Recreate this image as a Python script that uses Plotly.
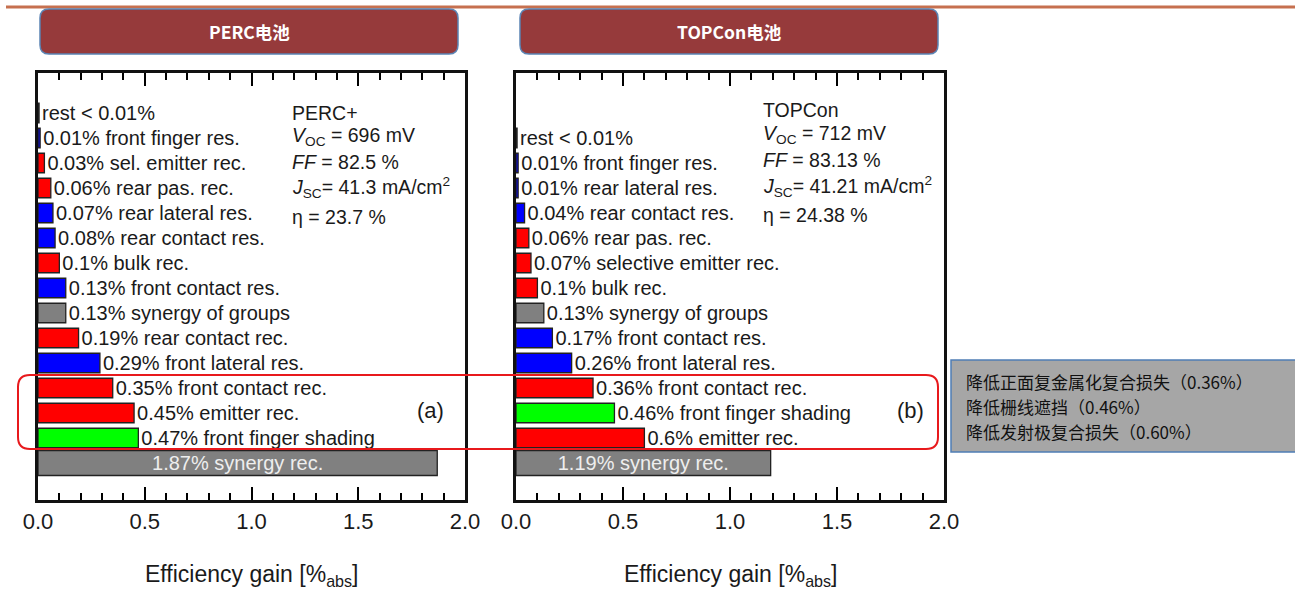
import plotly.graph_objects as go

W, H = 1295, 589

# ---------------- data (top-to-bottom order as drawn) ----------------
perc_labels = ["rest < 0.01%", "0.01% front finger res.", "0.03% sel. emitter rec.",
               "0.06% rear pas. rec.", "0.07% rear lateral res.", "0.08% rear contact res.",
               "0.1% bulk rec.", "0.13% front contact res.", "0.13% synergy of groups",
               "0.19% rear contact rec.", "0.29% front lateral res.", "0.35% front contact rec.",
               "0.45% emitter rec.", "0.47% front finger shading", "1.87% synergy rec."]
perc_values = [0.005, 0.01, 0.03, 0.06, 0.07, 0.08, 0.10, 0.13, 0.13, 0.19, 0.29, 0.35,
               0.45, 0.47, 1.87]
perc_groups = ["rest", "res", "rec", "rec", "res", "res", "rec", "res", "syn", "rec",
               "res", "rec", "rec", "shade", "syn"]

topcon_labels = ["rest < 0.01%", "0.01% front finger res.", "0.01% rear lateral res.",
                 "0.04% rear contact res.", "0.06% rear pas. rec.", "0.07% selective emitter rec.",
                 "0.1% bulk rec.", "0.13% synergy of groups", "0.17% front contact res.",
                 "0.26% front lateral res.", "0.36% front contact rec.", "0.46% front finger shading",
                 "0.6% emitter rec.", "1.19% synergy rec."]
topcon_values = [0.005, 0.01, 0.01, 0.04, 0.06, 0.07, 0.10, 0.13, 0.17, 0.26, 0.36, 0.46,
                 0.60, 1.19]
topcon_groups = ["rest", "res", "res", "res", "rec", "rec", "rec", "syn", "res", "res",
                 "rec", "shade", "rec", "syn"]

x_title = "Efficiency gain [%<sub>abs</sub>]"
panel_titles = ["PERC电池", "TOPCon电池"]
perc_params = ["PERC+", "<i>V</i><sub>OC</sub> = 696 mV", "<i>FF</i> = 82.5 %",
               "<i>J</i><sub>SC</sub>= 41.3 mA/cm<sup>2</sup>", "η = 23.7 %"]
topcon_params = ["TOPCon", "<i>V</i><sub>OC</sub> = 712 mV", "<i>FF</i> = 83.13 %",
                 "<i>J</i><sub>SC</sub>= 41.21 mA/cm<sup>2</sup>", "η = 24.38 %"]
note_lines = ["降低正面复金属化复合损失（0.36%）", "降低栅线遮挡（0.46%）", "降低发射极复合损失（0.60%）"]

# ---------------- styles ----------------
group_colors = {"rest": "#111111", "res": "#0000FF", "rec": "#FF0000",
                "syn": "#808080", "shade": "#00FF00"}
FONT = "Liberation Sans, Arial, sans-serif"
CJK = "Noto Sans CJK SC, sans-serif"
CLEAR = "rgba(0,0,0,0)"


def px(x):
    return x / W


def py(y):
    return 1 - y / H


def make_bar(labels, values, groups, xa, ya):
    n = len(values)
    ypos = list(range(n - 1, -1, -1))
    colors = [group_colors[g] for g in groups]
    widths = [1.0 if i == n - 1 else 0.78 for i in range(n)]
    tpos = ["inside" if i == n - 1 else "outside" for i in range(n)]
    return go.Bar(
        x=values, y=ypos, orientation="h", text=labels, textposition=tpos,
        insidetextanchor="middle", constraintext="none",
        width=widths,
        marker=dict(color=colors, line=dict(color="#222222", width=1.3)),
        outsidetextfont=dict(family=FONT, size=20, color="#1a1a1a"),
        insidetextfont=dict(family=FONT, size=20, color="#EEEEEE"),
        xaxis=xa, yaxis=ya, hoverinfo="skip", showlegend=False,
    )


fig = go.Figure()
fig.add_trace(make_bar(perc_labels, perc_values, perc_groups, "x", "y"))
fig.add_trace(make_bar(topcon_labels, topcon_values, topcon_groups, "x2", "y2"))

ydom = [py(500), py(73)]
yr = [-1.48, 15.6]


def xaxis_cfg(dom, anchor):
    return dict(domain=dom, anchor=anchor, range=[0, 2], tickmode="linear", tick0=0,
                dtick=0.5, tickformat=".1f",
                ticks="inside", ticklen=13, tickwidth=2, tickcolor="#000000",
                showline=True, linewidth=2.5, linecolor="#111111", mirror="allticks",
                gridcolor=CLEAR, zerolinecolor=CLEAR,
                tickfont=dict(family=FONT, size=22, color="#1a1a1a"),
                minor=dict(dtick=0.1, ticklen=7, tickwidth=2, ticks="inside",
                           tickcolor="#000000"))


def yaxis_cfg(anchor):
    return dict(domain=ydom, anchor=anchor, range=yr, showticklabels=False,
                showline=True, mirror=True, linewidth=2.5, linecolor="#111111",
                gridcolor=CLEAR, zerolinecolor=CLEAR)


fig.update_layout(
    template="none",
    width=W, height=H, autosize=False,
    margin=dict(l=0, r=0, t=0, b=0, pad=0, autoexpand=False),
    showlegend=False,
    xaxis=xaxis_cfg([px(38), px(465)], "y"),
    xaxis2=xaxis_cfg([px(516), px(944)], "y2"),
    yaxis=yaxis_cfg("x"),
    yaxis2=yaxis_cfg("x2"),
)


def round_rect(x0, y0, x1, y1, r):
    rx, ry = r / W, r / H
    X0, X1 = px(x0), px(x1)
    Y0, Y1 = py(y0), py(y1)
    return (f"M {X0+rx},{Y0} L {X1-rx},{Y0} Q {X1},{Y0} {X1},{Y0-ry} "
            f"L {X1},{Y1+ry} Q {X1},{Y1} {X1-rx},{Y1} L {X0+rx},{Y1} "
            f"Q {X0},{Y1} {X0},{Y1+ry} L {X0},{Y0-ry} Q {X0},{Y0} {X0+rx},{Y0} Z")


shapes = []
shapes.append(dict(type="line", xref="paper", yref="paper", x0=px(6), x1=px(1295),
                   y0=py(7), y1=py(7), line=dict(color="#C6704F", width=3)))
for (bx0, bx1) in [(40, 458), (520, 938)]:
    shapes.append(dict(type="path", xref="paper", yref="paper",
                       path=round_rect(bx0, 9, bx1, 54, 9),
                       fillcolor="#963A3B", line=dict(color="#5B84B4", width=1.5)))
shapes.append(dict(type="path", xref="paper", yref="paper",
                   path=round_rect(18, 375, 938, 449, 12),
                   fillcolor=CLEAR, line=dict(color="#E8191C", width=2)))
shapes.append(dict(type="rect", xref="paper", yref="paper", x0=px(951), x1=px(1300),
                   y0=py(452), y1=py(360), fillcolor="#A6A6A6",
                   line=dict(color="#4F7DB5", width=1.5)))
fig.update_layout(shapes=shapes)

ann = []
for t, cx in zip(panel_titles, [249, 729]):
    ann.append(dict(text=f"<b>{t}</b>", x=px(cx), y=py(31.5), xref="paper", yref="paper",
                    showarrow=False, xanchor="center", yanchor="middle",
                    font=dict(family=CJK, size=17.5, color="white")))
for lines, x0, ys in [(perc_params, 290, [113, 137, 162, 187, 217]),
                      (topcon_params, 761, [110, 134, 160, 186, 215])]:
    for t, yy in zip(lines, ys):
        ann.append(dict(text=t, x=px(x0), y=py(yy), xref="paper", yref="paper",
                        showarrow=False, xanchor="left", yanchor="middle",
                        font=dict(family=FONT, size=19.5, color="#1a1a1a")))
for t, cx in [("(a)", 430), ("(b)", 910)]:
    ann.append(dict(text=t, x=px(cx), y=py(410), xref="paper", yref="paper",
                    showarrow=False, xanchor="center", yanchor="middle",
                    font=dict(family=FONT, size=22, color="#1a1a1a")))
for cx in [251, 730]:
    ann.append(dict(text=x_title, x=px(cx), y=py(575), xref="paper", yref="paper",
                    showarrow=False, xanchor="center", yanchor="middle",
                    font=dict(family=FONT, size=23, color="#1a1a1a")))
for t, yy in zip(note_lines, [381, 406, 431]):
    ann.append(dict(text=t, x=px(964), y=py(yy), xref="paper", yref="paper",
                    showarrow=False, xanchor="left", yanchor="middle",
                    font=dict(family=CJK, size=17, color="#111111")))
fig.update_layout(annotations=ann)

fig.write_html("out.html", config={"responsive": False})
